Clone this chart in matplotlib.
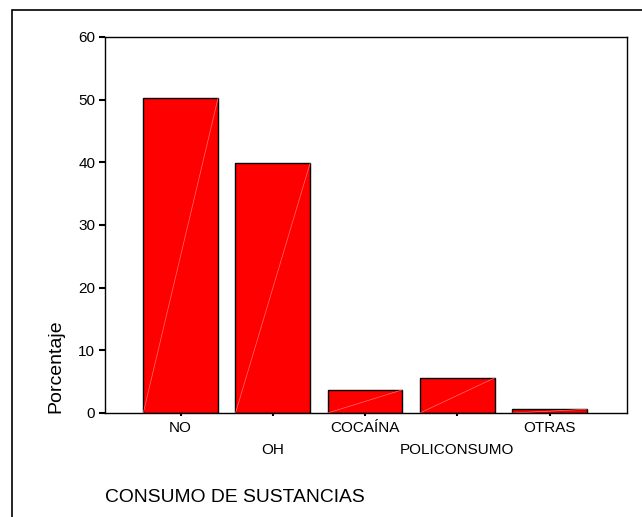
import matplotlib.pyplot as plt
from matplotlib.patches import Rectangle

plt.rcParams['font.family'] = ['Liberation Sans', 'DejaVu Sans']

categorias = ['NO', 'OH', 'COCAÍNA', 'POLICONSUMO', 'OTRAS']
porcentajes = [50.2, 39.9, 3.7, 5.6, 0.6]
yticks = [0, 10, 20, 30, 40, 50, 60]

fig = plt.figure(figsize=(6.42, 5.17), dpi=100)

# marco exterior del gráfico
fig.patches.append(Rectangle((12 / 642, -0.1), 1.2, 1 - 10 / 517 + 0.1,
                             transform=fig.transFigure, fill=False,
                             edgecolor='black', linewidth=1.2))

ax = fig.add_axes([105 / 642, 1 - 413 / 517, 522 / 642, 376 / 517])

x = list(range(len(categorias)))
ancho = 0.81
ax.bar(x, porcentajes, width=ancho, color='#ff0000', edgecolor='black', linewidth=1.0)

# línea diagonal tenue dentro de cada barra
for xi, v in zip(x, porcentajes):
    ax.plot([xi - ancho / 2, xi + ancho / 2], [0, v], color='#ff7070', linewidth=0.5)

ax.set_xlim(-0.82, 4.84)
ax.set_ylim(0, 60)
ax.set_yticks(yticks)
ax.set_xticks(x)
ax.set_xticklabels([])
for xi, lab in zip(x, categorias):
    dy = -10.6 if xi % 2 == 0 else -27
    ax.annotate(lab, (xi, 0), xytext=(0, dy), textcoords='offset points',
                ha='center', va='center', fontsize=11)

ax.tick_params(axis='y', direction='out', length=4, width=1.5, labelsize=11, pad=3)
ax.tick_params(axis='x', direction='out', length=2.5, width=1.5)
for s in ax.spines.values():
    s.set_linewidth(1.0)

ax.set_ylabel('Porcentaje', fontsize=14, labelpad=10, loc='bottom')
fig.text(105 / 642, 1 - 498 / 517, 'CONSUMO DE SUSTANCIAS', fontsize=13.9, ha='left', va='center')

fig.savefig('out.png', dpi=100)
